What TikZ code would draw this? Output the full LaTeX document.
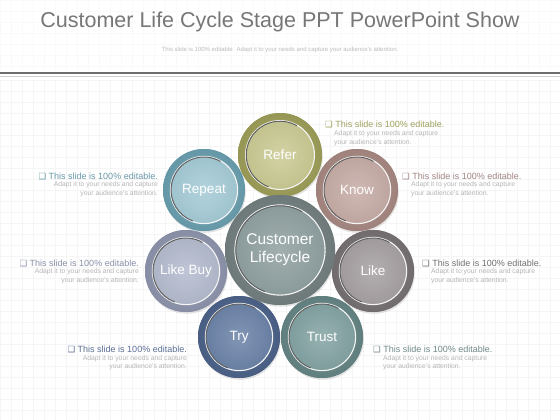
\documentclass[tikz,border=0pt]{standalone}
\usepackage{fontspec}
\setmainfont{Liberation Sans}
\newfontfamily\djvfont{DejaVu Sans}
\usetikzlibrary{shadows}
\definecolor{gridc}{HTML}{F5F5F5}
\definecolor{titlec}{HTML}{777777}
\definecolor{subtc}{HTML}{BBBBBB}
\definecolor{linec}{HTML}{6E6E6E}
\definecolor{subc}{HTML}{B5B5B5}
\definecolor{referR}{HTML}{A6A65E}\definecolor{referI}{HTML}{CACA94}\definecolor{referT}{HTML}{A0A060}
\definecolor{knowR}{HTML}{B09089}\definecolor{knowI}{HTML}{C6ACA6}\definecolor{knowT}{HTML}{A08484}
\definecolor{likeR}{HTML}{7D7779}\definecolor{likeI}{HTML}{A6A0A2}\definecolor{likeT}{HTML}{707070}
\definecolor{trustR}{HTML}{6B8C8C}\definecolor{trustI}{HTML}{84A3A3}\definecolor{trustT}{HTML}{708888}
\definecolor{tryR}{HTML}{506890}\definecolor{tryI}{HTML}{6C83A8}\definecolor{tryT}{HTML}{5A6E94}
\definecolor{buyR}{HTML}{969DB6}\definecolor{buyI}{HTML}{B4BBCE}\definecolor{buyT}{HTML}{8890A8}
\definecolor{repR}{HTML}{70A8B9}\definecolor{repI}{HTML}{A5CBD6}\definecolor{repT}{HTML}{6898A8}
\definecolor{cenR}{HTML}{7A8686}\definecolor{cenI}{HTML}{90A0A0}
\tikzset{
  bub/.style n args={3}{circle, minimum size=#1 pt, inner sep=0pt, fill=#2,
    drop shadow={opacity=0.22, shadow xshift=0.8pt, shadow yshift=-1.8pt},
    text=white, font=\fontsize{13.5}{16}\selectfont, align=center,
    path picture={
      \coordinate (pc) at (path picture bounding box.center);
      \shade[inner color=#2!92!white, outer color=#2!90!black] (pc) circle[radius={0.5*#1 pt}];
      \shade[inner color=#3!85!white, outer color=#3!96!black] (pc) circle[radius={0.41*#1 pt}];
      \draw[white!92!gray, line width=1.1pt] (pc) circle[radius={0.41*#1 pt}];
      \draw[black!62, line width=1pt] (pc) ++(60:{0.402*#1 pt}) arc[start angle=60, end angle=250, radius={0.402*#1 pt}];
    }},
  hd/.style={font=\fontsize{9}{11}\selectfont, inner sep=0pt},
  sb/.style={font=\fontsize{6.8}{8.5}\selectfont, text=subc, inner sep=0pt}
}
\newcommand\chkbox{{\djvfont\fontsize{8.5}{9}\selectfont ❑}}
\begin{document}
\begin{tikzpicture}[x=1pt,y=-1pt]
\useasboundingbox (0,0) rectangle (560,420);
\fill[white] (0,0) rectangle (560,420);
\foreach \i in {0,11,...,560} \draw[gridc, line width=0.4pt] (\i,80) -- (\i,420);
\foreach \j in {80,91,...,420} \draw[gridc, line width=0.4pt] (0,\j) -- (560,\j);
\foreach \i in {0,11,...,560} \draw[gridc!60!white, line width=0.4pt] (\i,0) -- (\i,70);
\foreach \j in {0,11,...,70} \draw[gridc!60!white, line width=0.4pt] (0,\j) -- (560,\j);
\node[font=\fontsize{21.5}{25}\selectfont, text=titlec] (title) at (280,22) {Customer Life Cycle Stage PPT PowerPoint Show};
\node[font=\fontsize{6}{7}\selectfont, text=subtc] (subtitle) at (280,50) {This slide is 100\% editable. Adapt it to your needs and capture your audience's attention.};
\draw[linec, line width=2.5pt] (0,73) -- (560,73);
\draw[black!18, line width=0.8pt] (0,76.5) -- (560,76.5);
% circles
\node[bub={82}{repR}{repI}] (repeat) at (204,190) {Repeat};
\node[bub={82}{knowR}{knowI}] (know) at (357,190) {Know};
\node[bub={82}{likeR}{likeI}] (like) at (373,271) {Like};
\node[bub={82}{buyR}{buyI}] (likebuy) at (186,271) {Like Buy};
\node[bub={82}{trustR}{trustI}] (trust) at (322,337) {Trust};
\node[bub={82}{tryR}{tryI}] (try) at (239,337) {Try};
\node[bub={84}{referR}{referI}] (refer) at (280,155) {Refer};
\node[bub={110}{cenR}{cenI}, font=\fontsize{15.5}{18}\selectfont] (center) at (280,250) {Customer\\Lifecycle};
% texts right side
\node[hd, text=referT, anchor=base west] (h1) at (325,128) {\chkbox{} This slide is 100\% editable.};
\node[sb, anchor=north west, align=left] (s1) at (334,130.5) {Adapt it to your needs and capture\\your audience's attention.};
\node[hd, text=knowT, anchor=base west] (h2) at (402,179) {\chkbox{} This slide is 100\% editable.};
\node[sb, anchor=north west, align=left] (s2) at (411,181.5) {Adapt it to your needs and capture\\your audience's attention.};
\node[hd, text=likeT, anchor=base west] (h3) at (422,266) {\chkbox{} This slide is 100\% editable.};
\node[sb, anchor=north west, align=left] (s3) at (431,268.5) {Adapt it to your needs and capture\\your audience's attention.};
\node[hd, text=trustT, anchor=base west] (h4) at (373,352.5) {\chkbox{} This slide is 100\% editable.};
\node[sb, anchor=north west, align=left] (s4) at (383,355) {Adapt it to your needs and capture\\your audience's attention.};
% texts left side
\node[hd, text=tryT, anchor=base east] (h5) at (187,352.5) {\chkbox{} This slide is 100\% editable.};
\node[sb, anchor=north east, align=right] (s5) at (187,355) {Adapt it to your needs and capture\\your audience's attention.};
\node[hd, text=buyT, anchor=base east] (h6) at (139,266) {\chkbox{} This slide is 100\% editable.};
\node[sb, anchor=north east, align=right] (s6) at (139,268.5) {Adapt it to your needs and capture\\your audience's attention.};
\node[hd, text=repT, anchor=base east] (h7) at (158,179) {\chkbox{} This slide is 100\% editable.};
\node[sb, anchor=north east, align=right] (s7) at (158,181.5) {Adapt it to your needs and capture\\your audience's attention.};
\end{tikzpicture}
\end{document}
